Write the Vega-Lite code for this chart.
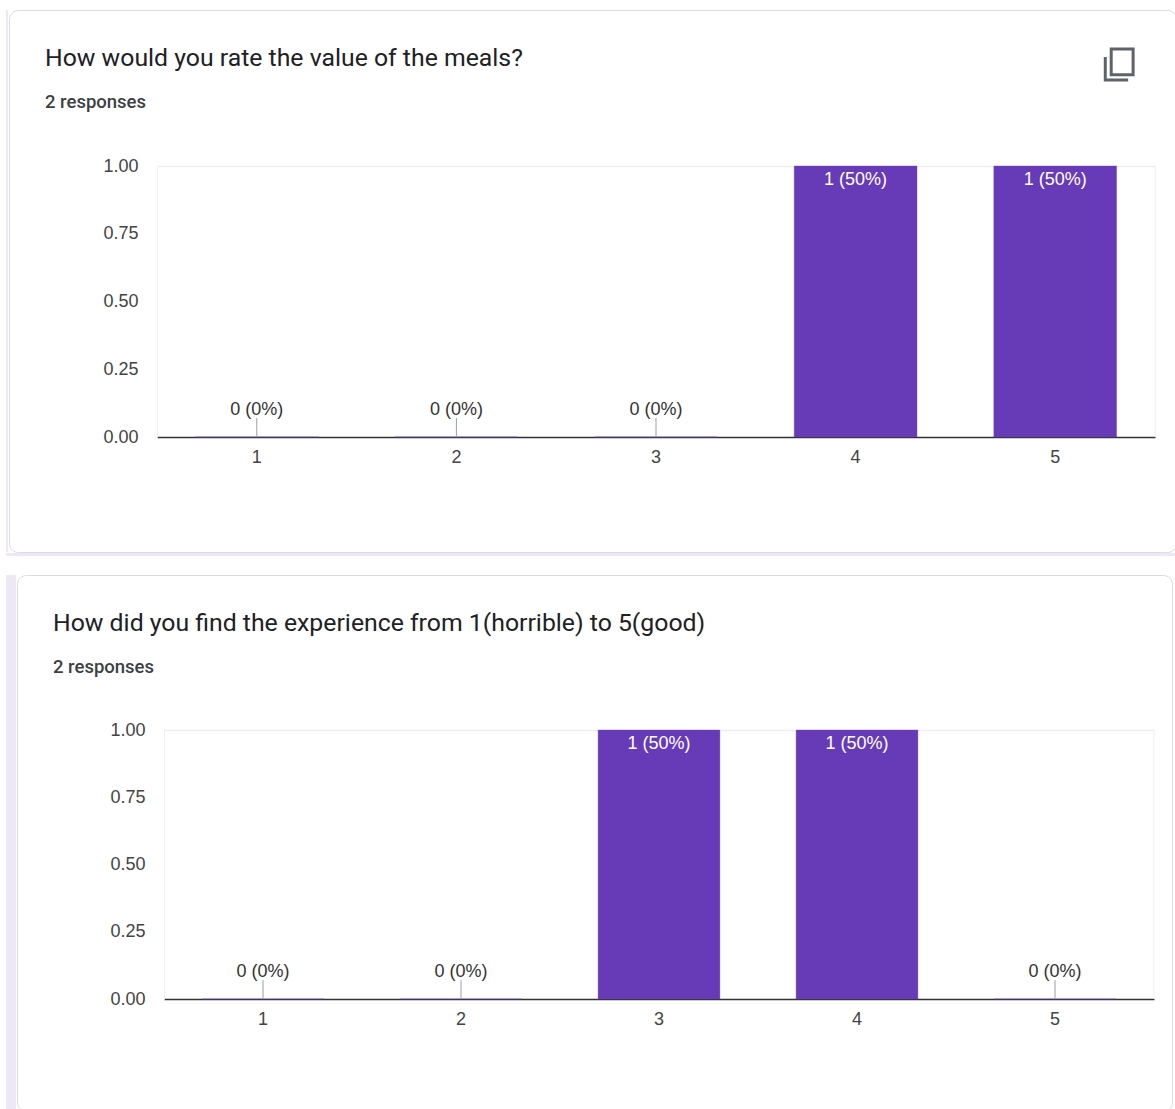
{
  "$schema": "https://vega.github.io/schema/vega-lite/v6.json",
  "background": "white",
  "padding": {"left": 6, "top": 9, "right": 0, "bottom": 0},
  "autosize": {"type": "pad", "contains": "content"},
  "config": {
    "font": "Liberation Sans",
    "concat": {"spacing": 0},
    "title": {
      "font": "Roboto", "fontSize": 24.8, "fontWeight": 400, "color": "#202124",
      "anchor": "start", "frame": "group", "baseline": "alphabetic",
      "subtitleFont": "Roboto", "subtitleFontSize": 18.5, "subtitleColor": "#3c4043",
      "subtitleFontWeight": 500, "subtitlePadding": 22
    },
    "axis": {"labelFont": "Liberation Sans", "labelFontSize": 18, "labelColor": "#444444", "title": null, "ticks": false}
  },
  "datasets": {
    "meals": [
      {"rating": "1", "count": 0, "label": "0 (0%)"},
      {"rating": "2", "count": 0, "label": "0 (0%)"},
      {"rating": "3", "count": 0, "label": "0 (0%)"},
      {"rating": "4", "count": 1, "label": "1 (50%)"},
      {"rating": "5", "count": 1, "label": "1 (50%)"}
    ],
    "experience": [
      {"rating": "1", "count": 0, "label": "0 (0%)"},
      {"rating": "2", "count": 0, "label": "0 (0%)"},
      {"rating": "3", "count": 1, "label": "1 (50%)"},
      {"rating": "4", "count": 1, "label": "1 (50%)"},
      {"rating": "5", "count": 0, "label": "0 (0%)"}
    ],
    "none": []
  },
  "spacing": 18,
  "vconcat": [
    {
      "spacing": 0,
      "vconcat": [
        {
          "spacing": 0,
          "hconcat": [
            {"width": 2, "height": 542, "data": {"name": "none"}, "mark": "rect", "view": {"fill": "#eee8f6", "stroke": null}},
            {
              "width": 1167, "height": 542,
              "view": {"fill": "white", "stroke": "#dadce0", "cornerRadius": 9},
              "title": {"text": "How would you rate the value of the meals?", "subtitle": "2 responses", "offset": -101, "dx": 36},
              "data": {"name": "meals"},
              "layer": [
                {
                  "mark": {"type": "bar", "color": "#673ab7", "stroke": "#673ab7", "strokeOpacity": 0.35},
                  "encoding": {
                    "x": {
                      "field": "rating", "type": "nominal",
                      "scale": {"domain": ["1", "2", "3", "4", "5"], "range": [148, 1146], "paddingInner": 0.385, "paddingOuter": 0.1925},
                      "axis": {"offset": -115, "labelAngle": 0, "domainColor": "#333333", "domainWidth": 1.5, "labelPadding": 11}
                    },
                    "y": {
                      "field": "count", "type": "quantitative",
                      "scale": {"domain": [0, 1], "range": [427, 156]},
                      "axis": {
                        "offset": -148, "values": [0, 0.25, 0.5, 0.75, 1], "format": ".2f", "labelPadding": 19,
                        "domainColor": "#efefef", "grid": true, "gridColor": "#efefef", "gridWidth": 1.5,
                        "gridOpacity": {"condition": {"test": "datum.value === 1", "value": 1}, "value": 0}
                      }
                    }
                  }
                },
                {
                  "transform": [{"filter": "datum.count === 0"}],
                  "mark": {"type": "rule", "color": "#9e9e9e"},
                  "encoding": {"x": {"field": "rating", "type": "nominal"}, "y": {"datum": 0}, "y2": {"datum": 0.07}}
                },
                {
                  "transform": [{"filter": "datum.count === 0"}],
                  "mark": {"type": "text", "dy": -27, "fontSize": 18, "color": "#333333"},
                  "encoding": {"x": {"field": "rating", "type": "nominal"}, "y": {"field": "count", "type": "quantitative"}, "text": {"field": "label"}}
                },
                {
                  "transform": [{"filter": "datum.count > 0"}],
                  "mark": {"type": "text", "dy": 14, "fontSize": 18, "color": "#ffffff"},
                  "encoding": {"x": {"field": "rating", "type": "nominal"}, "y": {"field": "count", "type": "quantitative"}, "text": {"field": "label"}}
                },
                {
                  "transform": [{"filter": "datum.rating === '5'"}],
                  "mark": {"type": "rule", "color": "#efefef", "xOffset": 100},
                  "encoding": {"x": {"field": "rating", "type": "nominal"}, "y": {"datum": 0}, "y2": {"datum": 1}}
                },
                {
                  "transform": [{"filter": "datum.rating === '5'"}],
                  "mark": {
                    "type": "point", "filled": false, "stroke": "#5f6368", "strokeWidth": 3, "opacity": 1, "size": 1024, "xOffset": 64,
                    "shape": "M-0.87,-0.5V0.94H0.56M-0.5,-1H0.87V0.62H-0.5Z"
                  },
                  "encoding": {"x": {"field": "rating", "type": "nominal"}, "y": {"datum": 1.373}}
                }
              ]
            }
          ]
        },
        {"width": 1169, "height": 3, "data": {"name": "none"}, "mark": "rect", "view": {"fill": "#eee8f6", "stroke": null}}
      ]
    },
    {
      "spacing": 0,
      "hconcat": [
        {"width": 10, "height": 536, "data": {"name": "none"}, "mark": "rect", "view": {"fill": "#eee8f6", "stroke": null}},
        {
          "width": 1155, "height": 536,
          "view": {"fill": "white", "stroke": "#dadce0", "cornerRadius": 9},
          "title": {"text": "How did you find the experience from 1(horrible) to 5(good)", "subtitle": "2 responses", "offset": -101, "dx": 36},
          "data": {"name": "experience"},
          "layer": [
            {
              "mark": {"type": "bar", "color": "#673ab7", "stroke": "#673ab7", "strokeOpacity": 0.35},
              "encoding": {
                "x": {
                  "field": "rating", "type": "nominal",
                  "scale": {"domain": ["1", "2", "3", "4", "5"], "range": [147, 1137], "paddingInner": 0.385, "paddingOuter": 0.1925},
                  "axis": {"offset": -112, "labelAngle": 0, "domainColor": "#333333", "domainWidth": 1.5, "labelPadding": 11}
                },
                "y": {
                  "field": "count", "type": "quantitative",
                  "scale": {"domain": [0, 1], "range": [424, 155]},
                  "axis": {
                    "offset": -147, "values": [0, 0.25, 0.5, 0.75, 1], "format": ".2f", "labelPadding": 19,
                    "domainColor": "#efefef", "grid": true, "gridColor": "#efefef", "gridWidth": 1.5,
                    "gridOpacity": {"condition": {"test": "datum.value === 1", "value": 1}, "value": 0}
                  }
                }
              }
            },
            {
              "transform": [{"filter": "datum.count === 0"}],
              "mark": {"type": "rule", "color": "#9e9e9e"},
              "encoding": {"x": {"field": "rating", "type": "nominal"}, "y": {"datum": 0}, "y2": {"datum": 0.07}}
            },
            {
              "transform": [{"filter": "datum.count === 0"}],
              "mark": {"type": "text", "dy": -27, "fontSize": 18, "color": "#333333"},
              "encoding": {"x": {"field": "rating", "type": "nominal"}, "y": {"field": "count", "type": "quantitative"}, "text": {"field": "label"}}
            },
            {
              "transform": [{"filter": "datum.count > 0"}],
              "mark": {"type": "text", "dy": 14, "fontSize": 18, "color": "#ffffff"},
              "encoding": {"x": {"field": "rating", "type": "nominal"}, "y": {"field": "count", "type": "quantitative"}, "text": {"field": "label"}}
            },
            {
              "transform": [{"filter": "datum.rating === '5'"}],
              "mark": {"type": "rule", "color": "#efefef", "xOffset": 99},
              "encoding": {"x": {"field": "rating", "type": "nominal"}, "y": {"datum": 0}, "y2": {"datum": 1}}
            }
          ]
        }
      ]
    }
  ]
}
